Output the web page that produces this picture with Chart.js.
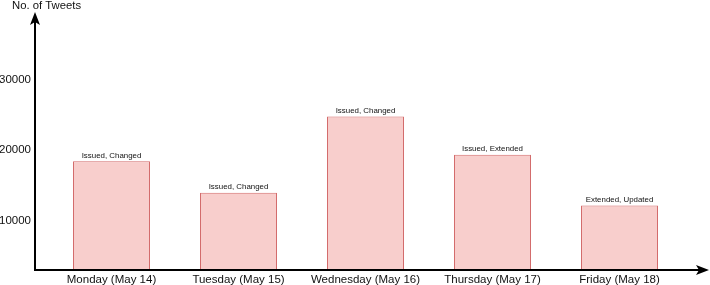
<!DOCTYPE html>
<html>
<head>
<meta charset="utf-8">
<script src="https://cdn.jsdelivr.net/npm/chart.js@4.4.1/dist/chart.umd.min.js"></script>
<style>
  html, body { margin: 0; padding: 0; background: #fff; }
  #wrap { width: 710px; height: 285px; }
</style>
</head>
<body>
<div id="wrap"><canvas id="tweets"></canvas></div>
<script>
// dados do gráfico
const days = ['Monday (May 14)', 'Tuesday (May 15)', 'Wednesday (May 16)', 'Thursday (May 17)', 'Friday (May 18)'];
const tweetCounts = [18400, 13950, 24750, 19350, 12150];
const barNotes = ['Issued, Changed', 'Issued, Changed', 'Issued, Changed', 'Issued, Extended', 'Extended, Updated'];
const yTicks = [10000, 20000, 30000];
const yTitle = 'No. of Tweets';

const fontFamily = '"Liberation Sans", Arial, sans-serif';

// desenha eixos com setas, título do eixo e as notas sobre as barras
const axesPlugin = {
  id: 'axesArrows',
  afterDatasetsDraw(chart) {
    const { ctx, chartArea } = chart;
    const axisX = chartArea.left - 13;
    const axisY = chartArea.bottom;
    ctx.save();
    ctx.strokeStyle = '#000';
    ctx.fillStyle = '#000';
    ctx.lineWidth = 2;

    // eixo y
    ctx.beginPath();
    ctx.moveTo(axisX, axisY + 1);
    ctx.lineTo(axisX, 20);
    ctx.stroke();
    ctx.beginPath();
    ctx.moveTo(axisX, 12);
    ctx.lineTo(axisX - 5, 25);
    ctx.lineTo(axisX, 22);
    ctx.lineTo(axisX + 5, 25);
    ctx.closePath();
    ctx.fill();

    // eixo x
    ctx.beginPath();
    ctx.moveTo(axisX - 1, axisY);
    ctx.lineTo(700, axisY);
    ctx.stroke();
    ctx.beginPath();
    ctx.moveTo(709, axisY);
    ctx.lineTo(696, axisY - 5);
    ctx.lineTo(699, axisY);
    ctx.lineTo(696, axisY + 5);
    ctx.closePath();
    ctx.fill();

    // título do eixo y
    ctx.font = '11.3px ' + fontFamily;
    ctx.fillStyle = '#111';
    ctx.textAlign = 'left';
    ctx.textBaseline = 'middle';
    ctx.fillText(yTitle, 12, 6);

    // notas sobre as barras
    const meta = chart.getDatasetMeta(0);
    ctx.font = '7.9px ' + fontFamily;
    ctx.textAlign = 'center';
    ctx.textBaseline = 'bottom';
    meta.data.forEach((bar, i) => {
      ctx.fillText(barNotes[i], bar.x, bar.y - 2);
    });
    ctx.restore();
  }
};

new Chart(document.getElementById('tweets'), {
  type: 'bar',
  data: {
    labels: days,
    datasets: [{
      data: tweetCounts,
      backgroundColor: '#f8cecc',
      borderColor: '#d36a6a',
      borderWidth: 1,
      barPercentage: 0.606,
      categoryPercentage: 1
    }]
  },
  options: {
    responsive: true,
    maintainAspectRatio: false,
    animation: false,
    layout: { padding: { top: 16, right: 27, left: 0, bottom: 0 } },
    plugins: {
      legend: { display: false },
      tooltip: { enabled: false }
    },
    scales: {
      x: {
        grid: { display: false, drawTicks: false },
        border: { display: false },
        afterFit(scale) {
          scale.height = 15;
          scale.paddingLeft = 0;
          scale.paddingRight = 0;
        },
        ticks: {
          color: '#111',
          padding: 3,
          maxRotation: 0,
          autoSkip: false,
          font: { family: fontFamily, size: 11.5 }
        }
      },
      y: {
        min: 3000,
        max: 39000,
        grid: { display: false, drawTicks: false },
        border: { display: false },
        afterBuildTicks(scale) {
          scale.ticks = yTicks.map((v) => ({ value: v }));
        },
        afterFit(scale) {
          scale.width = 48;
          scale.paddingTop = 0;
          scale.paddingBottom = 0;
        },
        ticks: {
          color: '#111',
          padding: 17,
          font: { family: fontFamily, size: 11.5 },
          callback: (value) => String(value)
        }
      }
    }
  },
  plugins: [axesPlugin]
});
</script>
</body>
</html>
